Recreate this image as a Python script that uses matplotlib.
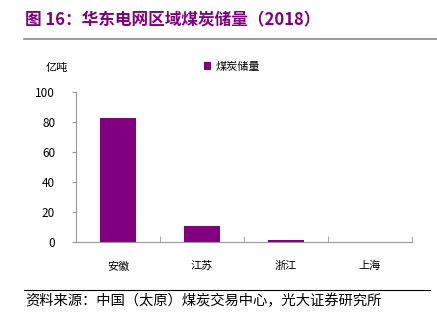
import matplotlib
matplotlib.use("Agg")
import matplotlib.pyplot as plt
import numpy as np

plt.rcParams['font.family'] = ['Noto Sans CJK SC', 'DejaVu Sans']

provinces = ["安徽", "江苏", "浙江", "上海"]
coal_reserves = [83.0, 10.7, 1.1, 0.0]
series_name = "煤炭储量"
title = "图 16：华东电网区域煤炭储量（2018）"
source = "资料来源：中国（太原）煤炭交易中心，光大证券研究所"

purple = "#800080"

fig = plt.figure(figsize=(4.37, 3.31), dpi=100)
ax = fig.add_axes([0.1739, 0.2698, 0.7689, 0.4513])

x = np.arange(len(provinces))
ax.bar(x, coal_reserves, width=0.42, color=purple, label=series_name)

ax.set_xlim(-0.5, len(provinces) - 0.5)
ax.set_ylim(0, 100)
ax.set_yticks([0, 20, 40, 60, 80, 100])
ax.tick_params(axis='y', direction='out', length=3, color='#999999',
               labelsize=8.5, pad=12)
ax.set_xticks(x)
ax.set_xticklabels(provinces, fontsize=8)
ax.tick_params(axis='x', length=0, pad=14)
# boundary ticks between categories, pointing up
ax.set_xticks(np.arange(len(provinces) + 1) - 0.5, minor=True)
ax.tick_params(axis='x', which='minor', direction='in', length=4, color='#999999')

for s in ['top', 'right']:
    ax.spines[s].set_visible(False)
for s in ['left', 'bottom']:
    ax.spines[s].set_color('#999999')
    ax.spines[s].set_linewidth(0.8)

ax.legend(loc='upper left', bbox_to_anchor=(0.35, 1.27), frameon=False,
          fontsize=8, handlelength=0.7, handleheight=0.7, handletextpad=0.4)

fig.text(46 / 437, 1 - 68 / 331, "亿吨", fontsize=8, va='center', ha='left')

fig.text(25 / 437, 1 - 20 / 331, title, fontsize=12, fontweight='bold',
         color=purple, va='center', ha='left')
fig.add_artist(plt.Line2D([24 / 437, 1.0], [1 - 38.5 / 331] * 2,
                          color='#888888', linewidth=1.2))
fig.add_artist(plt.Line2D([24 / 437, 430 / 437], [1 - 290 / 331] * 2,
                          color='black', linewidth=0.8))
fig.text(25 / 437, 1 - 301 / 331, source, fontsize=10.3, va='center', ha='left')

fig.savefig("out.png", dpi=100)
